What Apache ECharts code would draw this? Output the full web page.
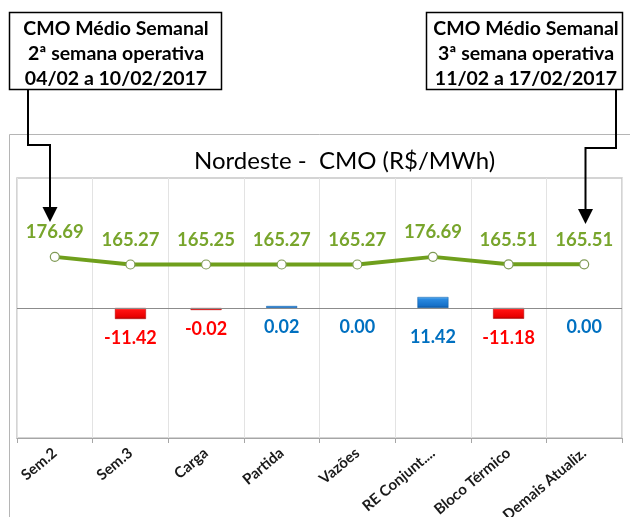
<!DOCTYPE html>
<html>
<head>
<meta charset="utf-8">
<script src="https://cdn.jsdelivr.net/npm/echarts@6/dist/echarts.min.js"></script>
<style>
html,body{margin:0;padding:0;background:#fff;}
#chart{width:630px;height:517px;}
</style>
</head>
<body>
<div id="chart"></div>
<script>
// ---- data ----
const categories = ['Sem.2', 'Sem.3', 'Carga', 'Partida', 'Vazões', 'RE Conjunt....', 'Bloco Térmico', 'Demais Atualiz.'];
const cmo = [176.69, 165.27, 165.25, 165.27, 165.27, 176.69, 165.51, 165.51];
const variation = [null, -11.42, -0.02, 0.02, 0.00, 11.42, -11.18, 0.00];
const chartTitle = 'Nordeste -  CMO (R$/MWh)';
const noteLeft = ['CMO Médio Semanal', '2ª semana operativa', '04/02 a 10/02/2017'];
const noteRight = ['CMO Médio Semanal', '3ª semana operativa', '11/02 a 17/02/2017'];

// ---- styles ----
const FONT = 'Lato, "Open Sans", sans-serif';
const GREEN = '#6f9f1c';
const GREEN_TXT = '#78a52c';
const RED = '#ff0000';
const BLUE = '#0070c0';
const redFill = new echarts.graphic.LinearGradient(0, 0, 0, 1, [
  {offset: 0, color: '#ff5a5a'}, {offset: 0.2, color: '#ff1010'},
  {offset: 0.8, color: '#e80000'}, {offset: 1, color: '#a80000'}]);
const blueFill = new echarts.graphic.LinearGradient(0, 0, 0, 1, [
  {offset: 0, color: '#6ab8f5'}, {offset: 0.2, color: '#2b8ae0'},
  {offset: 0.8, color: '#1670c8'}, {offset: 1, color: '#0b4f96'}]);

const barData = variation.map(v => {
  if (v === null) return null;
  const neg = v < 0;
  return {
    value: v,
    itemStyle: {
      color: v === 0 ? 'rgba(0,0,0,0)' : (neg ? redFill : blueFill),
      borderColor: v === 0 ? 'rgba(0,0,0,0)' : (neg ? '#b00000' : '#0a5aa5'),
      borderWidth: 0.5
    },
    label: {
      color: neg ? RED : BLUE,
      distance: v > 1 ? 20 : 10
    }
  };
});

const chart = echarts.init(document.getElementById('chart'), null, {renderer: 'canvas'});
chart.setOption({
  animation: false,
  backgroundColor: '#fff',
  title: {
    text: chartTitle,
    left: 189, top: 144,
    textStyle: {fontFamily: FONT, fontSize: 24, fontWeight: 'normal', color: '#000'}
  },
  grid: {
    left: 17, top: 178, width: 605, height: 260,
    containLabel: false, outerBoundsMode: 'none',
    show: true, borderColor: '#c6c6c6', borderWidth: 1.5, backgroundColor: 'transparent'
  },
  xAxis: {
    type: 'category',
    data: categories,
    boundaryGap: true,
    axisLine: {onZero: false, lineStyle: {color: '#a6a6a6', width: 1.2}},
    axisTick: {show: true, length: 5, lineStyle: {color: '#a6a6a6'}},
    splitLine: {show: true, lineStyle: {color: '#e3e3e3', width: 1}},
    axisLabel: {
      rotate: 40, margin: 13, interval: 0, hideOverlap: false,
      fontFamily: FONT, fontSize: 15, fontWeight: 'bold', color: '#1a1a1a'
    }
  },
  yAxis: [
    {type: 'value', min: -135, max: 135, show: false, splitLine: {show: false}},
    {type: 'value', min: -95, max: 295, show: false, splitLine: {show: false}}
  ],
  series: [
    {
      type: 'bar',
      yAxisIndex: 0,
      data: barData,
      barWidth: 31,
      barMinHeight: 2,
      z: 2,
      label: {
        show: true, position: 'bottom',
        fontFamily: FONT, fontSize: 18, fontWeight: 'bold',
        formatter: p => p.value.toFixed(2)
      },
      markLine: {
        silent: true, symbol: 'none',
        label: {show: false},
        lineStyle: {color: '#8c8c8c', width: 1.2, type: 'solid'},
        data: [{yAxis: 0}]
      }
    },
    {
      type: 'line',
      yAxisIndex: 1,
      data: cmo,
      z: 5,
      symbol: 'circle',
      symbolSize: 9,
      lineStyle: {color: GREEN, width: 4},
      itemStyle: {color: '#ffffff', borderColor: '#7f9a55', borderWidth: 1.2},
      label: {
        show: true, position: 'top', distance: 10,
        color: GREEN_TXT, fontFamily: FONT, fontSize: 18.5, fontWeight: 'bold',
        formatter: p => p.value.toFixed(2)
      }
    }
  ],
  graphic: [
    // outer chart frame
    {type: 'polyline', silent: true, shape: {points: [[9.5, 517], [9.5, 134.5], [630, 134.5]]},
     style: {stroke: '#b5b5b5', lineWidth: 1, fill: null}},
    // left annotation box
    {type: 'rect', shape: {x: 9.5, y: 12.5, width: 212, height: 77},
     style: {fill: '#fff', stroke: '#000', lineWidth: 1.5}},
    {type: 'text', x: 116, y: 16,
     style: {text: noteLeft.join('\n'), fill: '#000', font: 'bold 19.5px ' + FONT,
             textAlign: 'center', align: 'center', verticalAlign: 'top', lineHeight: 25}},
    {type: 'polyline', shape: {points: [[28, 89], [28, 145], [50, 145], [50, 208]]},
     style: {stroke: '#000', lineWidth: 2, fill: null}},
    {type: 'polygon', shape: {points: [[42.5, 207], [57.5, 207], [50, 222]]},
     style: {fill: '#000'}},
    // right annotation box
    {type: 'rect', shape: {x: 426.5, y: 12.5, width: 196, height: 77},
     style: {fill: '#fff', stroke: '#000', lineWidth: 1.5}},
    {type: 'text', x: 526, y: 16,
     style: {text: noteRight.join('\n'), fill: '#000', font: 'bold 19.5px ' + FONT,
             textAlign: 'center', align: 'center', verticalAlign: 'top', lineHeight: 25}},
    {type: 'polyline', shape: {points: [[616, 89], [616, 148], [585.5, 148], [585.5, 210]]},
     style: {stroke: '#000', lineWidth: 2, fill: null}},
    {type: 'polygon', shape: {points: [[578, 209], [593, 209], [585.5, 224]]},
     style: {fill: '#000'}}
  ]
});
</script>
</body>
</html>
